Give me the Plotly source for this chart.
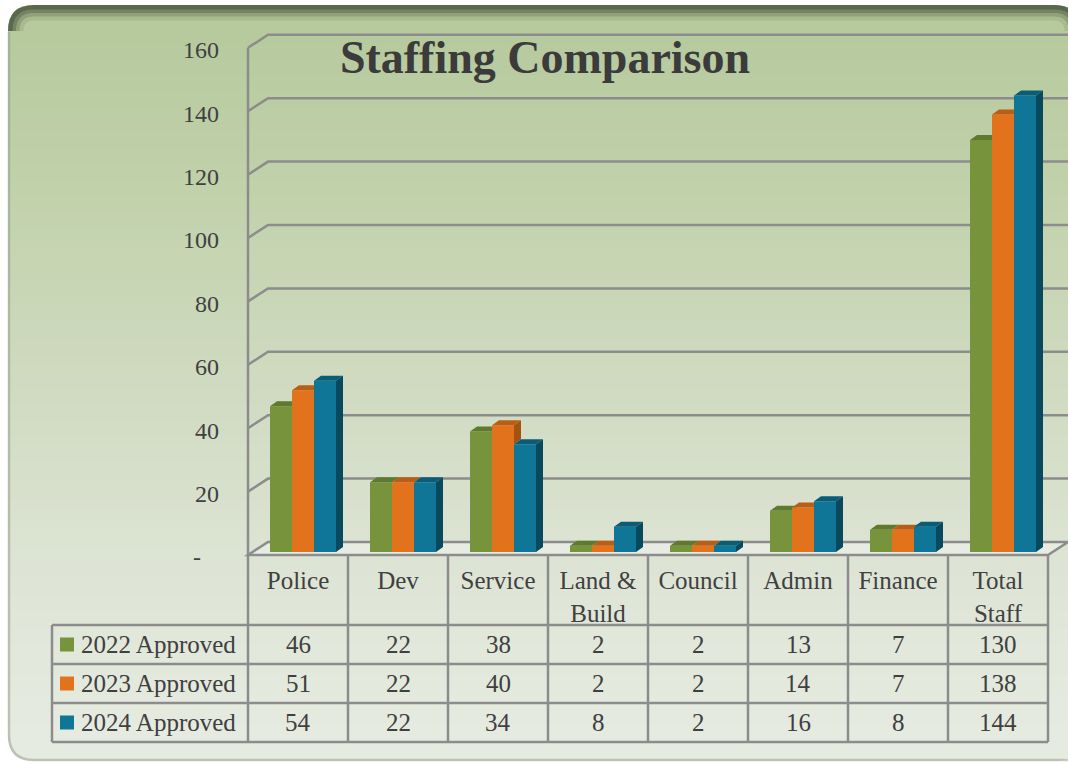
import plotly.graph_objects as go

# ---------------- data ----------------
categories = ["Police", "Dev", "Service", "Land &<br>Build", "Council", "Admin", "Finance", "Total<br>Staff"]
series_names = ["2022 Approved", "2023 Approved", "2024 Approved"]
approved_2022 = [46, 22, 38, 2, 2, 13, 7, 130]
approved_2023 = [51, 22, 40, 2, 2, 14, 7, 138]
approved_2024 = [54, 22, 34, 8, 2, 16, 8, 144]
y_tick_values = [0, 20, 40, 60, 80, 100, 120, 140, 160]
y_tick_labels = ["-\u00a0\u00a0\u00a0", "20", "40", "60", "80", "100", "120", "140", "160"]
title_text = "Staffing Comparison"

series_values = [approved_2022, approved_2023, approved_2024]

# ---------------- style ----------------
front_colors = ["#77933C", "#E2721C", "#0F7697"]
top_colors = ["#5F7A2D", "#B95E14", "#0B5D77"]
side_colors = ["#4F6527", "#A4520F", "#08495E"]
FONT = "Liberation Serif"
TEXT = "#404040"
GRID = "#8C8C8C"

W, H = 1068, 765
CAT0_PX, CAT_PX = 298, 100      # pixel x of first category centre, pixels per category
ZERO_PX, UNIT_PX = 552, 3.17    # pixel y of value 0 (bar plane), pixels per unit


def xd(px):
    return (px - CAT0_PX) / CAT_PX


def yd(py):
    return (ZERO_PX - py) / UNIT_PX


def xp(px):
    return px / W


def yp(py):
    return 1 - py / H


BAR_W = 0.22
GROUP_SHIFT = 0.05
DX = 7 / CAT_PX
DY = 5 / UNIT_PX
FRONT_DY = -3 / UNIT_PX
BACK_DY = 10 / UNIT_PX
WALL_X0, WALL_X1 = xd(248), xd(268)
RIGHT_X0, RIGHT_X1 = xd(1048), xd(1068)

shapes = []


def ppath(points_cmds):
    """Build a paper-coordinate path from pixel commands."""
    out = []
    for cmd, pts in points_cmds:
        coords = " ".join(f"{xp(x):.5f},{yp(y):.5f}" for x, y in pts)
        out.append(f"{cmd}{coords}")
    return " ".join(out)


# ---------------- background card ----------------
bx0, by0, bx1, by1, br = 8, 5, 1080, 761, 26


def rounded(x0, y0, x1, y1, r, top=True, bottom=True):
    cmds = []
    if top:
        cmds += [("M", [(x0 + r, y0)]), ("L", [(x1 - r, y0)]), ("Q", [(x1, y0), (x1, y0 + r)])]
    else:
        cmds += [("M", [(x0, y0)]), ("L", [(x1, y0)])]
    if bottom:
        cmds += [("L", [(x1, y1 - r)]), ("Q", [(x1, y1), (x1 - r, y1)]), ("L", [(x0 + r, y1)]),
                 ("Q", [(x0, y1), (x0, y1 - r)])]
    else:
        cmds += [("L", [(x1, y1)]), ("L", [(x0, y1)])]
    if top:
        cmds += [("L", [(x0, y0 + r)]), ("Q", [(x0, y0), (x0 + r, y0)])]
    return ppath(cmds) + " Z"


def hexrgb(h):
    h = h.lstrip("#")
    return [int(h[i:i + 2], 16) for i in (0, 2, 4)]


grad_stops = [(40, "#b7ca9e"), (200, "#c2d2ac"), (400, "#d1dbc2"), (560, "#dde4d4"), (735, "#e6ebe1")]


def grad_color(y):
    for (ya, ca), (yb, cb) in zip(grad_stops[:-1], grad_stops[1:]):
        if ya <= y <= yb:
            t = (y - ya) / (yb - ya)
            a, b = hexrgb(ca), hexrgb(cb)
            return "rgb(%d,%d,%d)" % tuple(round(a[i] + (b[i] - a[i]) * t) for i in range(3))
    return grad_stops[-1][1] if y > grad_stops[-1][0] else grad_stops[0][1]


shapes.append(dict(type="path", xref="paper", yref="paper", layer="below",
                   path=rounded(bx0, by0, bx1, by1, br), fillcolor="#e6ebe1", line=dict(width=0)))
shapes.append(dict(type="path", xref="paper", yref="paper", layer="below",
                   path=rounded(bx0, by0, bx1, 42, br, bottom=False), fillcolor="#b7ca9e", line=dict(width=0)))
yy = 40
while yy < 736:
    shapes.append(dict(type="rect", xref="paper", yref="paper", layer="below",
                       x0=xp(bx0), x1=xp(bx1), y0=yp(yy), y1=yp(yy + 6),
                       fillcolor=grad_color(yy + 2.5), line=dict(width=0)))
    yy += 5

# top rim shading
for inset, width, col in [(2.5, 5, "#5a684d"), (6.5, 4, "#748363"), (10, 4, "#91a27b"), (13.5, 4, "#a8bb8f")]:
    r = br - inset
    x0, y0, x1 = bx0 + inset, by0 + inset, bx1 - inset
    shapes.append(dict(type="path", xref="paper", yref="paper", layer="below",
                       path=ppath([("M", [(x0, y0 + r)]), ("Q", [(x0, y0), (x0 + r, y0)]),
                                   ("L", [(x1 - r, y0)]), ("Q", [(x1, y0), (x1, y0 + r)])]),
                       line=dict(color=col, width=width)))
# left / bottom soft edge
shapes.append(dict(type="path", xref="paper", yref="paper", layer="below",
                   path=ppath([("M", [(bx0 + 1, 32)]), ("L", [(bx0 + 1, by1 - br)]),
                               ("Q", [(bx0 + 1, by1 - 1), (bx0 + br, by1 - 1)]), ("L", [(bx1, by1 - 1)])]),
                   line=dict(color="rgba(150,160,140,0.55)", width=2.5)))

# ---------------- floor / walls / gridlines (data coordinates) ----------------
floor_path = (f"M{WALL_X0},{FRONT_DY} L{WALL_X1},{BACK_DY} L{RIGHT_X1},{BACK_DY} "
              f"L{RIGHT_X0},{FRONT_DY} Z")
shapes.append(dict(type="path", xref="x", yref="y", layer="below", path=floor_path,
                   fillcolor="rgba(240,243,236,0.55)", line=dict(color=GRID, width=2.5)))
shapes.append(dict(type="line", xref="x", yref="y", layer="below",
                   x0=WALL_X0, x1=WALL_X0, y0=FRONT_DY, y1=y_tick_values[-1] + FRONT_DY,
                   line=dict(color=GRID, width=2.5)))
for v in y_tick_values[1:]:
    shapes.append(dict(type="path", xref="x", yref="y", layer="below",
                       path=f"M{WALL_X0},{v + FRONT_DY} L{WALL_X1},{v + BACK_DY} L{RIGHT_X1},{v + BACK_DY}",
                       line=dict(color=GRID, width=2.5)))

# ---------------- data table ----------------
TL = dict(color=GRID, width=2.5)
header_top, header_bot = 555, 625
row_edges = [625, 664, 703, 742]
col_edges = [248 + 100 * i for i in range(len(categories) + 1)]
legend_left = 52
for ypx in row_edges:
    shapes.append(dict(type="line", xref="paper", yref="paper", x0=xp(legend_left), x1=xp(col_edges[-1]),
                       y0=yp(ypx), y1=yp(ypx), line=TL))
shapes.append(dict(type="line", xref="paper", yref="paper", x0=xp(legend_left), x1=xp(legend_left),
                   y0=yp(row_edges[0]), y1=yp(row_edges[-1]), line=TL))
for xpx in col_edges:
    shapes.append(dict(type="line", xref="paper", yref="paper", x0=xp(xpx), x1=xp(xpx),
                       y0=yp(header_top), y1=yp(row_edges[-1]), line=TL))

annotations = []
for r, (name, vals) in enumerate(zip(series_names, series_values)):
    yc = (row_edges[r] + row_edges[r + 1]) / 2
    shapes.append(dict(type="rect", xref="paper", yref="paper", x0=xp(60), x1=xp(74),
                       y0=yp(yc - 7), y1=yp(yc + 7), fillcolor=front_colors[r], line=dict(width=0)))
    annotations.append(dict(xref="paper", yref="paper", x=xp(79), y=yp(yc), xanchor="left", yanchor="middle",
                            text=name, showarrow=False, font=dict(family=FONT, size=25, color=TEXT)))
    for i, v in enumerate(vals):
        annotations.append(dict(xref="x", yref="paper", x=i, y=yp(yc), xanchor="center", yanchor="middle",
                                text=str(v), showarrow=False, font=dict(family=FONT, size=25, color=TEXT)))

# ---------------- bars with 3D faces ----------------
fig = go.Figure()
n = len(categories)
for k, vals in enumerate(series_values):
    offset = -1.5 * BAR_W + k * BAR_W
    fig.add_trace(go.Bar(x=[i + GROUP_SHIFT for i in range(n)], y=vals, width=BAR_W, offset=offset,
                         marker=dict(color=front_colors[k], line=dict(width=0)),
                         name=series_names[k], showlegend=False, hoverinfo="skip"))

for k, vals in enumerate(series_values):
    offset = -1.5 * BAR_W + k * BAR_W
    nxt = series_values[k + 1] if k + 1 < len(series_values) else None
    tx, ty, sx, sy = [], [], [], []
    for i, v in enumerate(vals):
        xl = i + GROUP_SHIFT + offset
        xr = xl + BAR_W
        vn = nxt[i] if nxt is not None else -1e9
        vc = min(max(vn, v), v + DY)
        # top face (clipped where the neighbouring bar's front covers it)
        tx += [xl, xl + DX, xr + DX, xr + (vc - v) / DY * DX, xr, xr, None]
        ty += [v, v + DY, v + DY, vc, vc, v, None]
        # side face (visible only above the neighbour)
        lo = 0 if nxt is None else min(max(vn, 0), v)
        if lo < v:
            sx += [xr, xr + DX, xr + DX, xr, None]
            sy += [lo, lo + DY, v + DY, v, None]
    fig.add_trace(go.Scatter(x=tx, y=ty, mode="none", fill="toself", fillcolor=top_colors[k],
                             showlegend=False, hoverinfo="skip"))
    if sx:
        fig.add_trace(go.Scatter(x=sx, y=sy, mode="none", fill="toself", fillcolor=side_colors[k],
                                 showlegend=False, hoverinfo="skip"))

fig.update_layout(
    width=W, height=H, autosize=False,
    margin=dict(l=0, r=0, t=0, b=0, pad=0),
    paper_bgcolor="white", plot_bgcolor="rgba(0,0,0,0)",
    barmode="overlay", showlegend=False,
    title=dict(text=f"<b>{title_text}</b>", x=xp(545), y=yp(57), xanchor="center", yanchor="middle",
               font=dict(family=FONT, size=46, color="#3B3B3B")),
    xaxis=dict(range=[xd(0), xd(W)], anchor="free", position=yp(header_top), side="bottom",
               tickvals=list(range(n)), ticktext=categories, ticks="", showline=False,
               showgrid=False, zeroline=False, ticklabelstandoff=8,
               tickfont=dict(family=FONT, size=25, color=TEXT)),
    yaxis=dict(range=[yd(H), yd(0)], anchor="free", position=xp(219), side="left",
               tickvals=y_tick_values, ticktext=y_tick_labels, ticks="", showline=False,
               showgrid=False, zeroline=False, ticklabelshift=5,
               tickfont=dict(family=FONT, size=24, color=TEXT)),
    shapes=shapes, annotations=annotations,
)

fig.write_html("out.html", config={"displayModeBar": False},
               post_script="document.body.style.margin='0';")
